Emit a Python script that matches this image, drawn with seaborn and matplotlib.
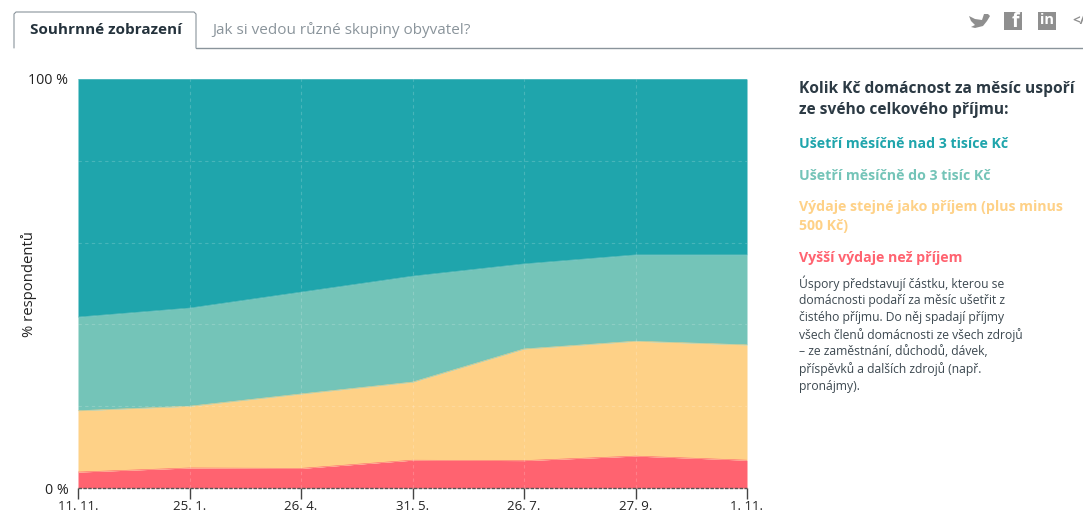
import numpy as np
import pandas as pd
import matplotlib
matplotlib.use('Agg')
import matplotlib.pyplot as plt
from matplotlib.patches import Rectangle, Polygon
import seaborn as sns

dates = ['11. 11.', '25. 1.', '26. 4.', '31. 5.', '26. 7.', '27. 9.', '1. 11.']
vyssi = [3.9, 4.9, 4.8, 6.8, 6.7, 7.8, 6.8]
stejne = [15.0, 15.1, 18.2, 19.1, 27.3, 28.1, 28.2]
do_3 = [22.9, 24.0, 24.9, 25.9, 20.8, 21.1, 22.0]
nad_3 = [58.2, 56.0, 52.1, 48.2, 45.2, 43.0, 43.0]

names = ['Vyšší výdaje než příjem', 'Výdaje stejné jako příjem',
         'Ušetří měsíčně do 3 tisíc Kč', 'Ušetří měsíčně nad 3 tisíce Kč']
colors = ['#ff6370', '#fed187', '#74c4b8', '#1fa5ac']
yticks = [0, 100]
ytick_labels = ['0 %', '100 %']

sns.set_theme(style='white')
plt.rcParams['font.family'] = ['Open Sans', 'DejaVu Sans']

W, H = 1083, 513
fig = plt.figure(figsize=(W / 100, H / 100), dpi=100)
ax = fig.add_axes([78 / W, 1 - 488 / H, (747 - 78) / W, (488 - 79) / H])

x = np.arange(len(dates))
df = pd.DataFrame({'x': x, names[0]: vyssi, names[1]: stejne, names[2]: do_3, names[3]: nad_3})
df = df.set_index('x')
cum = df.cumsum(axis=1)
# poslední vrstva má končit přesně na 100
cum = cum.div(cum[names[3]], axis=0) * 100

low = np.zeros(len(x))
for name, c in zip(names, colors):
    ax.fill_between(x, low, cum[name].values, color=c, lw=0, zorder=1)
    low = cum[name].values
long = cum.reset_index().melt('x', var_name='vrstva', value_name='y')
sns.lineplot(data=long, x='x', y='y', hue='vrstva', hue_order=names, palette=colors,
             lw=0.4, legend=False, ax=ax, zorder=2)

ax.set_xlim(0, len(x) - 1)
ax.set_ylim(0, 100)
for v in x[1:-1]:
    ax.axvline(v, color='white', alpha=0.18, lw=0.8, ls=(0, (3, 3)), zorder=3)
for v in [20, 40, 60, 80]:
    ax.axhline(v, color='white', alpha=0.18, lw=0.8, ls=(0, (3, 3)), zorder=3)
ax.axhline(0, color='#555555', lw=1.0, ls=(0, (2.5, 1)), zorder=4, clip_on=False)

sns.despine(ax=ax, left=True, right=True, top=True, bottom=True)
ax.set_xticks(x)
ax.set_xticklabels(dates, fontsize=9.5, color='#222222')
ax.set_yticks(yticks)
ax.set_yticklabels(ytick_labels, fontsize=10.3, color='#222222')
ax.tick_params(axis='x', length=8, width=1, color='#444444', pad=1, bottom=True)
ax.tick_params(axis='y', length=0, pad=7)
ax.set_xlabel('')
ax.set_ylabel('')

# překryvná vrstva v pixelech: záložky, ikony, legenda
ov = fig.add_axes([0, 0, 1, 1], zorder=10)
ov.set_xlim(0, W)
ov.set_ylim(H, 0)
ov.axis('off')
ov.patch.set_alpha(0)

line_c = '#8a949b'
ov.plot([196, W], [48, 48], color=line_c, lw=1.0)
ov.plot([14, 14, 16, 194, 196, 196], [48, 14, 12, 12, 14, 48], color=line_c, lw=0.8)
ov.text(30, 30, 'Souhrnné zobrazení', fontsize=10.95, fontweight='bold', color='#24323c', va='center')
ov.text(212, 30, 'Jak si vedou různé skupiny obyvatel?', fontsize=10.95, color='#8a949b', va='center')

ic = '#8f8f8f'
ov.add_patch(Polygon([(969, 16), (975, 19), (982, 20), (984, 14), (988, 14), (990, 16), (987, 21),
                     (983, 26), (975, 28), (971, 27), (975, 25), (971, 21)], color=ic, lw=0))
ov.add_patch(Rectangle((1004, 12), 18, 18, color=ic, lw=0))
ov.text(1015, 22, 'f', color='white', fontsize=14, fontweight='bold', ha='center', va='center')
ov.add_patch(Rectangle((1038, 12), 18, 18, color=ic, lw=0))
ov.text(1047, 20.5, 'in', color='white', fontsize=10.5, fontweight='bold', ha='center', va='center')
ov.text(1072, 21, '</', color=ic, fontsize=9.5, fontweight='bold', va='center')

ov.text(799, 89, 'Kolik Kč domácnost za měsíc uspoří', fontsize=11.2, fontweight='bold', color='#2c3a44', va='center')
ov.text(799, 110, 'ze svého celkového příjmu:', fontsize=11.2, fontweight='bold', color='#2c3a44', va='center')
ov.text(799, 144, names[3], fontsize=10.2, fontweight='bold', color=colors[3], va='center')
ov.text(799, 176, names[2], fontsize=10.2, fontweight='bold', color=colors[2], va='center')
ov.text(799, 207, 'Výdaje stejné jako příjem (plus minus', fontsize=10.2, fontweight='bold', color=colors[1], va='center')
ov.text(799, 226, '500 Kč)', fontsize=10.2, fontweight='bold', color=colors[1], va='center')
ov.text(799, 258, names[0], fontsize=10.2, fontweight='bold', color=colors[0], va='center')

note = ['Úspory představují částku, kterou se', 'domácnosti podaří za měsíc ušetřit z',
        'čistého příjmu. Do něj spadají příjmy', 'všech členů domácnosti ze všech zdrojů',
        '– ze zaměstnání, důchodů, dávek,', 'příspěvků a dalších zdrojů (např.', 'pronájmy).']
for i, t in enumerate(note):
    ov.text(799, 283 + i * 17.2, t, fontsize=8.7, color='#3c4850', va='center')

ov.text(29, 284, '% respondentů', fontsize=10.7, rotation=90, color='#222222', ha='center', va='center')

fig.savefig('out.png', dpi=100)
